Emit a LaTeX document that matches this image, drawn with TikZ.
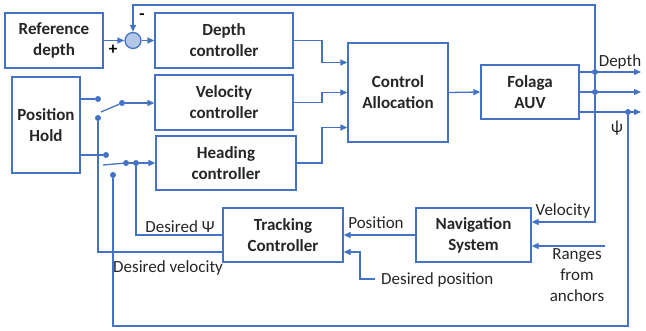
\documentclass[tikz,border=0pt]{standalone}
\usepackage{fontspec}
\setmainfont{Carlito}
\usetikzlibrary{arrows.meta,calc,positioning}
\definecolor{Wire}{HTML}{4472C4}
\definecolor{Ink}{HTML}{262626}
\definecolor{Knob}{HTML}{B4C7E7}
\tikzset{
  blockbox/.style={draw=Wire,line width=1.3pt,fill=white,text=Ink,align=center,inner sep=0pt,
    font=\bfseries\fontsize{17}{21}\selectfont},
  wire/.style={Wire,line width=1.3pt},
  flow/.style={Wire,line width=1.3pt,-{Triangle[length=7pt,width=6pt]}},
  tap/.style={circle,fill=Wire,inner sep=0pt,minimum size=6pt},
  tag/.style={text=Ink,align=center,inner sep=1pt,font=\fontsize{17}{21}\selectfont},
}

\begin{document}
\begin{tikzpicture}[x=1pt,y=-1pt]
    \useasboundingbox (0,0) rectangle (646,331);
    \node[blockbox,minimum width=98pt,minimum height=55pt] (refdepth) at (54,40.5) {Reference\\depth};
    \node[circle,draw=Wire,line width=1.3pt,fill=Knob,minimum size=16pt,inner sep=0pt] (sum) at (133,40.5) {};
    \node[blockbox,minimum width=138pt,minimum height=55pt] (depthctl) at (224,40.5) {Depth\\controller};
    \node[blockbox,minimum width=138pt,minimum height=55pt] (velctl) at (224,102.5) {Velocity\\controller};
    \node[blockbox,minimum width=140pt,minimum height=54pt] (headctl) at (226,163) {Heading\\controller};
    \node[blockbox,minimum width=68pt,minimum height=96pt] (poshold) at (46,125) {Position\\Hold};
    \node[blockbox,minimum width=100pt,minimum height=99pt] (alloc) at (398,92.5) {Control\\Allocation};
    \node[blockbox,minimum width=98pt,minimum height=54pt] (auv) at (530,92) {Folaga\\AUV};
    \node[blockbox,minimum width=120pt,minimum height=54pt] (track) at (283,235) {Tracking\\Controller};
    \node[blockbox,minimum width=115pt,minimum height=54pt] (nav) at (473.5,235) {Navigation\\System};

    \coordinate (busx) at (322,0);
    \coordinate (fbx) at (595,0);
    \coordinate (psix) at (628,0);
    \coordinate (outx) at (641,0);
    \coordinate (depthOut) at ([yshift=20pt]auv.east);
    \coordinate (velOut) at (auv.east);
    \coordinate (psiOut) at ([yshift=-20pt]auv.east);

    \node[tap] (dTap) at (depthOut -| fbx) {};
    \node[tap] (vTap) at (velOut -| fbx) {};
    \node[tap] (pTap) at (psiOut -| psix) {};
    \node[tap] (vHold) at (98,99) {};
    \node[tap] (vSel) at (122,103) {};
    \node[tap] (vIn) at (98,118) {};
    \node[tap] (hHold) at (106,155) {};
    \node[tap] (hSel) at (126,163) {};
    \node[tap] (hIn) at (136,163) {};
    \node[tap] (pIn) at (113,175) {};

    \draw[flow] (refdepth.east) -- (sum.west);
    \draw[flow] (sum.east) -- (depthctl.west);
    \draw[flow] (dTap) -- (dTap |- 0,5) -| (sum.north);
    \node[font=\bfseries\fontsize{17}{17}\selectfont,inner sep=0pt] (minus) at (142,17) {-};
    \node[font=\bfseries\fontsize{17}{17}\selectfont,inner sep=0pt] (plus) at (113,50) {+};

    \draw[flow] (depthctl.east) -- (depthctl.east -| busx) |- ([yshift=30pt]alloc.west);
    \draw[flow] (velctl.east) -- (velctl.east -| busx) |- (alloc.west);
    \draw[flow] (headctl.east) -- (headctl.east -| busx) |- ([yshift=-35pt]alloc.west);
    \draw[flow] (alloc.east) -- (auv.west);

    \draw[flow] (depthOut) -- (depthOut -| outx);
    \draw[flow] (velOut) -- (velOut -| outx);
    \draw[flow] (psiOut) -- (psiOut -| outx);
    \node[tag,anchor=south] (depthlbl) at (620,70) {Depth};
    \node[tag] (psilbl) at (617,128) {ψ};
    \draw[wire] (dTap) -- (vTap);
    \draw[flow] (vTap) |- ([yshift=13pt]nav.east);
    \node[tag,anchor=south] (vellbl) at (563,219) {Velocity};
    \coordinate (rangesEnd) at (605,246);
    \draw[flow] (rangesEnd) -- (rangesEnd -| nav.east);
    \node[tag,anchor=north] (rangeslbl) at (577,247) {Ranges\\from\\anchors};
    \draw[wire] (pTap) -- (pTap |- 0,326) -| (pIn);

    \draw[flow] (nav.west) -- (track.east);
    \node[tag,anchor=south] (poslbl) at (376,230) {Position};
    \coordinate (dposEnd) at (375,279);
    \draw[flow] (dposEnd) -- (dposEnd -| 360,0) |- ([yshift=-17pt]track.east);
    \node[tag,anchor=west] (dposlbl) at (380,280) {Desired position};

    \draw[wire] (track.west) -| (hIn);
    \node[tag,anchor=south] (dpsilbl) at (180,234) {Desired Ψ};
    \draw[wire] ([yshift=-17pt]track.west) -| (vIn);
    \node[tag,anchor=west] (dvellbl) at (112,268) {Desired velocity};

    \draw[wire] (poshold.east |- vHold) -- (vHold);
    \draw[wire] ($(vIn)+(3,-6)$) -- (vSel);
    \draw[flow] (vSel) -- (vSel -| velctl.west);
    \draw[wire] (poshold.east |- hHold) -- (hHold);
    \draw[wire] (103,165) -- (hSel);
    \draw[flow] (hSel) -- (hSel -| headctl.west);
\end{tikzpicture}
\end{document}
